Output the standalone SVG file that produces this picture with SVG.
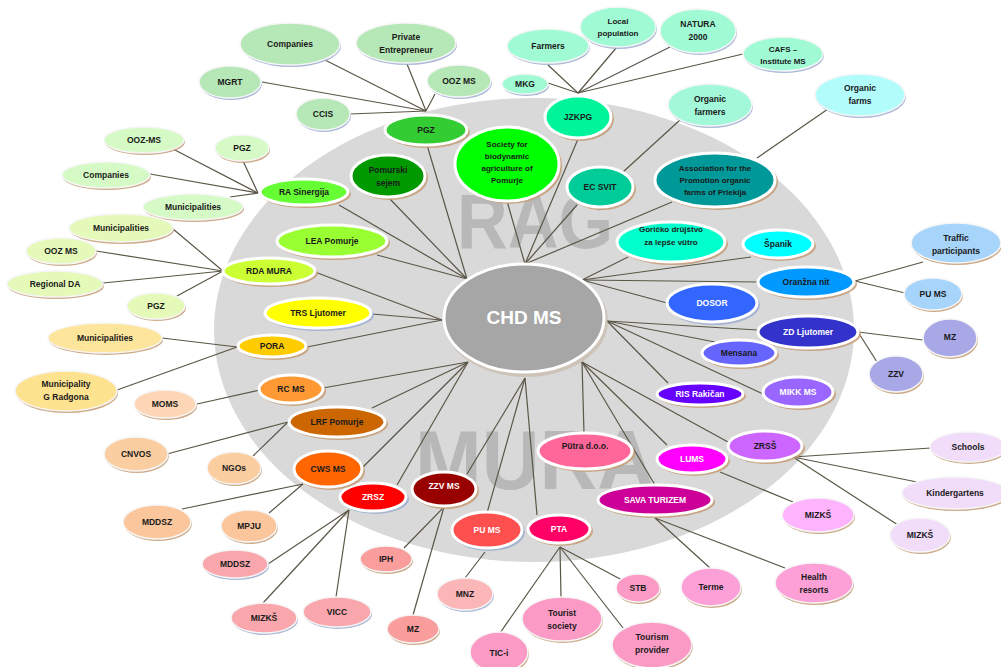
<svg xmlns="http://www.w3.org/2000/svg" width="1001" height="667" viewBox="0 0 1001 667">
<style>
.sh{fill:#c49c76;opacity:.85}
.shb{fill:#9eaed0;opacity:.85}
.in{stroke:#fff;stroke-width:3}
.out{stroke:#f6f6f6;stroke-width:1.5}
.t{font-family:"Liberation Sans",Arial,sans-serif;font-size:8.5px;font-weight:bold;text-anchor:middle;fill:#1a1a1a}
.s{font-size:8px}
.w{fill:#fff}
.big{font-size:19px}
.wm{font-family:"Liberation Sans",Arial,sans-serif;font-weight:bold;fill:#b8b8b8}
#connectors line{stroke:#5a5646;stroke-width:1.2}
</style>
<rect width="1001" height="667" fill="#fff"/>
<ellipse cx="534" cy="330" rx="320" ry="232" fill="#d9d9d9"/>
<text class="wm" x="457" y="248" font-size="78" textLength="156" lengthAdjust="spacingAndGlyphs">RAG</text>
<text class="wm" x="415" y="489" font-size="84" textLength="240" lengthAdjust="spacingAndGlyphs">MURA</text>

<g id="connectors">
<line x1="467" y1="279" x2="427" y2="145"/>
<line x1="467" y1="279" x2="389" y2="198"/>
<line x1="467" y1="279" x2="339" y2="205"/>
<line x1="467" y1="279" x2="377" y2="255"/>
<line x1="525" y1="264" x2="507" y2="201"/>
<line x1="525" y1="264" x2="578" y2="139"/>
<line x1="525" y1="264" x2="577" y2="205"/>
<line x1="525" y1="264" x2="672" y2="202"/>
<line x1="582" y1="280" x2="628" y2="257"/>
<line x1="582" y1="280" x2="751" y2="257"/>
<line x1="582" y1="280" x2="759" y2="282"/>
<line x1="582" y1="280" x2="667" y2="303"/>
<line x1="607" y1="321" x2="758" y2="330"/>
<line x1="607" y1="321" x2="715" y2="342"/>
<line x1="607" y1="321" x2="763" y2="394"/>
<line x1="607" y1="321" x2="668" y2="383"/>
<line x1="582" y1="362" x2="584" y2="433"/>
<line x1="582" y1="362" x2="667" y2="445"/>
<line x1="582" y1="362" x2="728" y2="442"/>
<line x1="582" y1="362" x2="655" y2="485"/>
<line x1="525" y1="378" x2="467" y2="474"/>
<line x1="525" y1="378" x2="487" y2="513"/>
<line x1="525" y1="378" x2="537" y2="515"/>
<line x1="468" y1="362" x2="323" y2="388"/>
<line x1="468" y1="362" x2="372" y2="408"/>
<line x1="468" y1="362" x2="362" y2="468"/>
<line x1="468" y1="362" x2="397" y2="485"/>
<line x1="442" y1="320" x2="315" y2="272"/>
<line x1="442" y1="320" x2="372" y2="314"/>
<line x1="442" y1="320" x2="307" y2="347"/>
<line x1="426" y1="111" x2="325" y2="60"/>
<line x1="426" y1="111" x2="407" y2="64"/>
<line x1="426" y1="111" x2="435" y2="94"/>
<line x1="426" y1="111" x2="262" y2="82"/>
<line x1="426" y1="111" x2="350" y2="114"/>
<line x1="258" y1="193" x2="173" y2="149"/>
<line x1="258" y1="193" x2="243" y2="161"/>
<line x1="258" y1="193" x2="150" y2="174"/>
<line x1="258" y1="193" x2="230" y2="197"/>
<line x1="223" y1="271" x2="173" y2="229"/>
<line x1="223" y1="271" x2="96" y2="251"/>
<line x1="223" y1="271" x2="103" y2="283"/>
<line x1="223" y1="271" x2="177" y2="296"/>
<line x1="237" y1="347" x2="162" y2="338"/>
<line x1="237" y1="347" x2="117" y2="390"/>
<line x1="260" y1="390" x2="197" y2="404"/>
<line x1="288" y1="422" x2="167" y2="454"/>
<line x1="288" y1="422" x2="253" y2="456"/>
<line x1="303" y1="484" x2="182" y2="509"/>
<line x1="303" y1="484" x2="269" y2="513"/>
<line x1="349" y1="510" x2="268" y2="564"/>
<line x1="349" y1="510" x2="263" y2="603"/>
<line x1="349" y1="510" x2="336" y2="597"/>
<line x1="444" y1="507" x2="404" y2="548"/>
<line x1="444" y1="507" x2="413" y2="615"/>
<line x1="485" y1="552" x2="465" y2="578"/>
<line x1="560" y1="547" x2="500" y2="633"/>
<line x1="560" y1="547" x2="561" y2="597"/>
<line x1="560" y1="547" x2="623" y2="628"/>
<line x1="560" y1="547" x2="622" y2="580"/>
<line x1="655" y1="518" x2="710" y2="568"/>
<line x1="655" y1="518" x2="785" y2="568"/>
<line x1="720" y1="472" x2="793" y2="502"/>
<line x1="793" y1="457" x2="931" y2="448"/>
<line x1="793" y1="457" x2="917" y2="482"/>
<line x1="793" y1="457" x2="898" y2="525"/>
<line x1="858" y1="332" x2="923" y2="340"/>
<line x1="858" y1="332" x2="877" y2="362"/>
<line x1="855" y1="281" x2="923" y2="262"/>
<line x1="855" y1="281" x2="905" y2="293"/>
<line x1="578" y1="93" x2="548" y2="83"/>
<line x1="578" y1="93" x2="548" y2="65"/>
<line x1="578" y1="93" x2="617" y2="47"/>
<line x1="578" y1="93" x2="670" y2="47"/>
<line x1="578" y1="93" x2="743" y2="54"/>
<line x1="623" y1="172" x2="680" y2="120"/>
<line x1="757" y1="158" x2="828" y2="109"/>
</g>

<g id="n-chd"><ellipse cx="526" cy="321" rx="82" ry="56" fill="#c4b4a4" opacity=".6"/><ellipse class="in" cx="524" cy="318" rx="80" ry="54" fill="#a6a6a6"/><text class="t w big" x="524" y="324">CHD MS</text></g>

<g id="n-pgz"><ellipse class="sh" cx="428" cy="132" rx="42" ry="16"/><ellipse class="in" cx="426" cy="130" rx="41" ry="15" fill="#33cc33"/><text class="t" x="426" y="133">PGZ</text></g>
<g id="n-pomurski"><ellipse class="sh" cx="390" cy="178" rx="38" ry="22"/><ellipse class="in" cx="388" cy="176" rx="37" ry="21" fill="#009900"/><text class="t" x="388" y="173">Pomurski<tspan x="388" dy="13">sejem</tspan></text></g>
<g id="n-society"><ellipse class="sh" cx="509" cy="166" rx="53" ry="38"/><ellipse class="in" cx="507" cy="164" rx="52" ry="37" fill="#00ff00"/><text class="t s" x="507" y="147">Society for<tspan x="507" dy="12">biodynamic</tspan><tspan x="507" dy="12">agriculture of</tspan><tspan x="507" dy="12">Pomurje</tspan></text></g>
<g id="n-jzkpg"><ellipse class="sh" cx="580" cy="119" rx="34" ry="22"/><ellipse class="in" cx="578" cy="117" rx="33" ry="21" fill="#00f59a"/><text class="t" x="578" y="120">JZKPG</text></g>
<g id="n-ecsvit"><ellipse class="sh" cx="602" cy="189" rx="34" ry="21"/><ellipse class="in" cx="600" cy="187" rx="33" ry="20" fill="#00cc99"/><text class="t" x="600" y="190">EC SVIT</text></g>
<g id="n-assoc"><ellipse class="sh" cx="717" cy="182" rx="61" ry="28"/><ellipse class="in" cx="715" cy="180" rx="60" ry="27" fill="#009999"/><text class="t s" x="715" y="171">Association for the<tspan x="715" dy="12">Promotion organic</tspan><tspan x="715" dy="12">farms of Prlekija</tspan></text></g>
<g id="n-goricko"><ellipse class="sh" cx="673" cy="244" rx="55" ry="21"/><ellipse class="in" cx="671" cy="242" rx="54" ry="20" fill="#00ffcc"/><text class="t s" x="671" y="232" fill="#102040">Goričko drüjštvo<tspan x="671" dy="13">za lepše vütro</tspan></text></g>
<g id="n-spanik"><ellipse class="sh" cx="780" cy="246" rx="36" ry="15"/><ellipse class="in" cx="778" cy="244" rx="35" ry="14" fill="#00ffff"/><text class="t" x="778" y="247">Španik</text></g>
<g id="n-oranzna"><ellipse class="sh" cx="808" cy="284" rx="49" ry="16"/><ellipse class="in" cx="806" cy="282" rx="48" ry="15" fill="#0099ff"/><text class="t" x="806" y="285">Oranžna nit</text></g>
<g id="n-dosor"><ellipse class="shb" cx="714" cy="305" rx="46" ry="20"/><ellipse class="in" cx="712" cy="303" rx="45" ry="19" fill="#3366ff"/><text class="t w" x="712" y="306">DOSOR</text></g>
<g id="n-zdljutomer"><ellipse class="sh" cx="810" cy="334" rx="51" ry="17"/><ellipse class="in" cx="808" cy="332" rx="50" ry="16" fill="#3333cc"/><text class="t w" x="808" y="335">ZD Ljutomer</text></g>
<g id="n-mensana"><ellipse class="sh" cx="741" cy="355" rx="38" ry="14"/><ellipse class="in" cx="739" cy="353" rx="37" ry="13" fill="#6666ff"/><text class="t" x="739" y="356">Mensana</text></g>
<g id="n-ris"><ellipse class="sh" cx="702" cy="396" rx="44" ry="12"/><ellipse class="in" cx="700" cy="394" rx="43" ry="11" fill="#6600ff"/><text class="t w" x="700" y="397">RIS Rakičan</text></g>
<g id="n-mikk"><ellipse class="sh" cx="800" cy="394" rx="36" ry="16"/><ellipse class="in" cx="798" cy="392" rx="35" ry="15" fill="#9966ff"/><text class="t w" x="798" y="395">MIKK MS</text></g>
<g id="n-zrss"><ellipse class="sh" cx="767" cy="448" rx="38" ry="16"/><ellipse class="in" cx="765" cy="446" rx="37" ry="15" fill="#cc66ff"/><text class="t" x="765" y="449">ZRSŠ</text></g>
<g id="n-lums"><ellipse class="sh" cx="694" cy="461" rx="36" ry="15"/><ellipse class="in" cx="692" cy="459" rx="35" ry="14" fill="#ff00ff"/><text class="t w" x="692" y="462">LUMS</text></g>
<g id="n-sava"><ellipse class="sh" cx="657" cy="502" rx="58" ry="16"/><ellipse class="in" cx="655" cy="500" rx="57" ry="15" fill="#cc0099"/><text class="t w" x="655" y="503">SAVA TURIZEM</text></g>
<g id="n-putra"><ellipse class="sh" cx="587" cy="453" rx="48" ry="19"/><ellipse class="in" cx="585" cy="451" rx="47" ry="18" fill="#ff6699"/><text class="t" x="585" y="449">Pütra d.o.o.</text></g>
<g id="n-pta"><ellipse class="sh" cx="561" cy="531" rx="32" ry="15"/><ellipse class="in" cx="559" cy="529" rx="31" ry="14" fill="#ff0066"/><text class="t w" x="559" y="532">PTA</text></g>
<g id="n-pums"><ellipse class="shb" cx="489" cy="532" rx="36" ry="19"/><ellipse class="in" cx="487" cy="530" rx="35" ry="18" fill="#ff5050"/><text class="t w" x="487" y="533">PU MS</text></g>
<g id="n-zzvms"><ellipse class="sh" cx="446" cy="491" rx="33" ry="18"/><ellipse class="in" cx="444" cy="489" rx="32" ry="17" fill="#990000"/><text class="t w" x="444" y="489">ZZV MS</text></g>
<g id="n-zrsz"><ellipse class="shb" cx="375" cy="499" rx="34" ry="15"/><ellipse class="in" cx="373" cy="497" rx="33" ry="14" fill="#ff0000"/><text class="t w" x="373" y="500">ZRSZ</text></g>
<g id="n-cws"><ellipse class="sh" cx="330" cy="471" rx="35" ry="19"/><ellipse class="in" cx="328" cy="469" rx="34" ry="18" fill="#ff6600"/><text class="t" x="328" y="472">CWS MS</text></g>
<g id="n-lrf"><ellipse class="sh" cx="339" cy="424" rx="49" ry="16"/><ellipse class="in" cx="337" cy="422" rx="48" ry="15" fill="#cc6600"/><text class="t" x="337" y="425">LRF Pomurje</text></g>
<g id="n-rcms"><ellipse class="sh" cx="293" cy="391" rx="33" ry="15"/><ellipse class="in" cx="291" cy="389" rx="32" ry="14" fill="#ff9933"/><text class="t" x="291" y="392">RC MS</text></g>
<g id="n-pora"><ellipse class="sh" cx="274" cy="348" rx="35" ry="12"/><ellipse class="in" cx="272" cy="346" rx="34" ry="11" fill="#ffcc00"/><text class="t" x="272" y="349">PORA</text></g>
<g id="n-trs"><ellipse class="shb" cx="320" cy="315" rx="54" ry="16"/><ellipse class="in" cx="318" cy="313" rx="53" ry="15" fill="#ffff00"/><text class="t" x="318" y="316">TRS Ljutomer</text></g>
<g id="n-rda"><ellipse class="sh" cx="271" cy="273" rx="47" ry="14"/><ellipse class="in" cx="269" cy="271" rx="46" ry="13" fill="#ccff33"/><text class="t" x="269" y="274">RDA MURA</text></g>
<g id="n-lea"><ellipse class="sh" cx="334" cy="243" rx="56" ry="17"/><ellipse class="in" cx="332" cy="241" rx="55" ry="16" fill="#99ff33"/><text class="t" x="332" y="244">LEA Pomurje</text></g>
<g id="n-rasin"><ellipse class="sh" cx="306" cy="194" rx="45" ry="14"/><ellipse class="in" cx="304" cy="192" rx="44" ry="13" fill="#66ff33"/><text class="t" x="304" y="195">RA Sinergija</text></g>

<g id="o-companies1"><ellipse class="shb" cx="291" cy="46" rx="50" ry="21"/><ellipse class="out" cx="290" cy="44" rx="50" ry="21" fill="#b6e7b6"/><text class="t" x="290" y="47">Companies</text></g>
<g id="o-private"><ellipse class="shb" cx="407" cy="45" rx="50" ry="20"/><ellipse class="out" cx="406" cy="43" rx="50" ry="20" fill="#b6e7b6"/><text class="t" x="406" y="40">Private<tspan x="406" dy="12.5">Entrepreneur</tspan></text></g>
<g id="o-oozms1"><ellipse class="shb" cx="460" cy="83" rx="32" ry="16"/><ellipse class="out" cx="459" cy="81" rx="32" ry="16" fill="#b6e7b6"/><text class="t" x="459" y="84">OOZ MS</text></g>
<g id="o-mgrt"><ellipse class="shb" cx="231" cy="84" rx="31" ry="16"/><ellipse class="out" cx="230" cy="82" rx="31" ry="16" fill="#b6e7b6"/><text class="t" x="230" y="85">MGRT</text></g>
<g id="o-ccis"><ellipse class="shb" cx="324" cy="116" rx="27" ry="16"/><ellipse class="out" cx="323" cy="114" rx="27" ry="16" fill="#b6e7b6"/><text class="t" x="323" y="117">CCIS</text></g>
<g id="o-oozms2"><ellipse class="sh" cx="145" cy="142" rx="40" ry="13"/><ellipse class="out" cx="144" cy="140" rx="40" ry="13" fill="#d5fac6"/><text class="t" x="144" y="143">OOZ-MS</text></g>
<g id="o-pgz2"><ellipse class="sh" cx="243" cy="150" rx="27" ry="13"/><ellipse class="out" cx="242" cy="148" rx="27" ry="13" fill="#d5fac6"/><text class="t" x="242" y="151">PGZ</text></g>
<g id="o-companies2"><ellipse class="sh" cx="107" cy="177" rx="44" ry="13"/><ellipse class="out" cx="106" cy="175" rx="44" ry="13" fill="#d5fac6"/><text class="t" x="106" y="178">Companies</text></g>
<g id="o-munic1"><ellipse class="sh" cx="194" cy="209" rx="50" ry="13"/><ellipse class="out" cx="193" cy="207" rx="50" ry="13" fill="#d5fac6"/><text class="t" x="193" y="210">Municipalities</text></g>
<g id="o-munic2"><ellipse class="sh" cx="122" cy="230" rx="52" ry="14"/><ellipse class="out" cx="121" cy="228" rx="52" ry="14" fill="#e5fab8"/><text class="t" x="121" y="231">Municipalities</text></g>
<g id="o-oozms3"><ellipse class="sh" cx="62" cy="253" rx="35" ry="13"/><ellipse class="out" cx="61" cy="251" rx="35" ry="13" fill="#e5fab8"/><text class="t" x="61" y="254">OOZ MS</text></g>
<g id="o-regda"><ellipse class="sh" cx="56" cy="286" rx="48" ry="13"/><ellipse class="out" cx="55" cy="284" rx="48" ry="13" fill="#e5fab8"/><text class="t" x="55" y="287">Regional DA</text></g>
<g id="o-pgz3"><ellipse class="sh" cx="157" cy="308" rx="29" ry="13"/><ellipse class="out" cx="156" cy="306" rx="29" ry="13" fill="#e5fab8"/><text class="t" x="156" y="309">PGZ</text></g>
<g id="o-munic3"><ellipse class="sh" cx="106" cy="340" rx="57" ry="15"/><ellipse class="out" cx="105" cy="338" rx="57" ry="15" fill="#fde59c"/><text class="t" x="105" y="341">Municipalities</text></g>
<g id="o-gradgona"><ellipse class="sh" cx="67" cy="393" rx="51" ry="20"/><ellipse class="out" cx="66" cy="391" rx="51" ry="20" fill="#fde290"/><text class="t" x="66" y="387">Municipality<tspan x="66" dy="13">G Radgona</tspan></text></g>
<g id="o-moms"><ellipse class="sh" cx="166" cy="406" rx="31" ry="14"/><ellipse class="out" cx="165" cy="404" rx="31" ry="14" fill="#fcd6b5"/><text class="t" x="165" y="407">MOMS</text></g>
<g id="o-cnvos"><ellipse class="sh" cx="137" cy="456" rx="32" ry="17"/><ellipse class="out" cx="136" cy="454" rx="32" ry="17" fill="#fbcea2"/><text class="t" x="136" y="457">CNVOS</text></g>
<g id="o-ngos"><ellipse class="sh" cx="235" cy="470" rx="27" ry="16"/><ellipse class="out" cx="234" cy="468" rx="27" ry="16" fill="#fbcea2"/><text class="t" x="234" y="471">NGOs</text></g>
<g id="o-mddsz1"><ellipse class="sh" cx="158" cy="524" rx="34" ry="17"/><ellipse class="out" cx="157" cy="522" rx="34" ry="17" fill="#fbc69c"/><text class="t" x="157" y="525">MDDSZ</text></g>
<g id="o-mpju"><ellipse class="sh" cx="250" cy="528" rx="28" ry="16"/><ellipse class="out" cx="249" cy="526" rx="28" ry="16" fill="#fbc69c"/><text class="t" x="249" y="529">MPJU</text></g>
<g id="o-mddsz2"><ellipse class="shb" cx="236" cy="566" rx="33" ry="14"/><ellipse class="out" cx="235" cy="564" rx="33" ry="14" fill="#f9a7ac"/><text class="t" x="235" y="567">MDDSZ</text></g>
<g id="o-mizks1"><ellipse class="shb" cx="265" cy="620" rx="33" ry="15"/><ellipse class="out" cx="264" cy="618" rx="33" ry="15" fill="#f9a7ac"/><text class="t" x="264" y="621">MIZKŠ</text></g>
<g id="o-vicc"><ellipse class="shb" cx="338" cy="614" rx="34" ry="15"/><ellipse class="out" cx="337" cy="612" rx="34" ry="15" fill="#f9a7ac"/><text class="t" x="337" y="615">VICC</text></g>
<g id="o-iph"><ellipse class="sh" cx="387" cy="561" rx="26" ry="13"/><ellipse class="out" cx="386" cy="559" rx="26" ry="13" fill="#f99d9d"/><text class="t" x="386" y="562">IPH</text></g>
<g id="o-mz1"><ellipse class="sh" cx="414" cy="631" rx="26" ry="14"/><ellipse class="out" cx="413" cy="629" rx="26" ry="14" fill="#f99d9d"/><text class="t" x="413" y="632">MZ</text></g>
<g id="o-mnz"><ellipse class="shb" cx="466" cy="596" rx="28" ry="16"/><ellipse class="out" cx="465" cy="594" rx="28" ry="16" fill="#fbb6b8"/><text class="t" x="465" y="597">MNZ</text></g>
<g id="o-stb"><ellipse class="sh" cx="639" cy="590" rx="22" ry="14"/><ellipse class="out" cx="638" cy="588" rx="22" ry="14" fill="#fc9ac6"/><text class="t" x="638" y="591">STB</text></g>
<g id="o-tourist"><ellipse class="sh" cx="563" cy="621" rx="40" ry="22"/><ellipse class="out" cx="562" cy="619" rx="40" ry="22" fill="#fc9ac6"/><text class="t" x="562" y="616">Tourist<tspan x="562" dy="13">society</tspan></text></g>
<g id="o-tourism"><ellipse class="sh" cx="653" cy="647" rx="40" ry="23"/><ellipse class="out" cx="652" cy="645" rx="40" ry="23" fill="#fc9ac6"/><text class="t" x="652" y="640">Tourism<tspan x="652" dy="13">provider</tspan></text></g>
<g id="o-tici"><ellipse class="sh" cx="500" cy="654" rx="29" ry="20"/><ellipse class="out" cx="499" cy="652" rx="29" ry="20" fill="#fc9ac6"/><text class="t" x="499" y="656">TIC-i</text></g>
<g id="o-terme"><ellipse class="sh" cx="712" cy="589" rx="30" ry="19"/><ellipse class="out" cx="711" cy="587" rx="30" ry="19" fill="#fda0d8"/><text class="t" x="711" y="590">Terme</text></g>
<g id="o-health"><ellipse class="sh" cx="815" cy="585" rx="39" ry="20"/><ellipse class="out" cx="814" cy="583" rx="39" ry="20" fill="#fda0d8"/><text class="t" x="814" y="580">Health<tspan x="814" dy="12.5">resorts</tspan></text></g>
<g id="o-mizks2"><ellipse class="sh" cx="819" cy="517" rx="36" ry="17"/><ellipse class="out" cx="818" cy="515" rx="36" ry="17" fill="#feb4fd"/><text class="t" x="818" y="518">MIZKŠ</text></g>
<g id="o-schools"><ellipse class="sh" cx="969" cy="449" rx="38" ry="15"/><ellipse class="out" cx="968" cy="447" rx="38" ry="15" fill="#f1dcfa"/><text class="t" x="968" y="450">Schools</text></g>
<g id="o-kinder"><ellipse class="sh" cx="956" cy="495" rx="53" ry="16"/><ellipse class="out" cx="955" cy="493" rx="53" ry="16" fill="#f1dcfa"/><text class="t" x="955" y="496">Kindergartens</text></g>
<g id="o-mizks3"><ellipse class="sh" cx="921" cy="537" rx="30" ry="17"/><ellipse class="out" cx="920" cy="535" rx="30" ry="17" fill="#f1dcfa"/><text class="t" x="920" y="538">MIZKŠ</text></g>
<g id="o-mz2"><ellipse class="sh" cx="951" cy="340" rx="27" ry="19"/><ellipse class="out" cx="950" cy="338" rx="27" ry="19" fill="#a8a8e6"/><text class="t" x="950" y="340">MZ</text></g>
<g id="o-zzv"><ellipse class="sh" cx="897" cy="376" rx="27" ry="18"/><ellipse class="out" cx="896" cy="374" rx="27" ry="18" fill="#a8a8e6"/><text class="t" x="896" y="377">ZZV</text></g>
<g id="o-traffic"><ellipse class="sh" cx="957" cy="245" rx="45" ry="20"/><ellipse class="out" cx="956" cy="243" rx="45" ry="20" fill="#a6d4fb"/><text class="t" x="956" y="241">Traffic<tspan x="956" dy="13">participants</tspan></text></g>
<g id="o-pums2"><ellipse class="sh" cx="934" cy="296" rx="29" ry="16"/><ellipse class="out" cx="933" cy="294" rx="29" ry="16" fill="#a6d4fb"/><text class="t" x="933" y="297">PU MS</text></g>
<g id="o-orgfarms"><ellipse class="shb" cx="861" cy="97" rx="45" ry="21"/><ellipse class="out" cx="860" cy="95" rx="45" ry="21" fill="#b3fcfc"/><text class="t" x="860" y="91">Organic<tspan x="860" dy="12.5">farms</tspan></text></g>
<g id="o-orgfarmers"><ellipse class="shb" cx="711" cy="107" rx="42" ry="21"/><ellipse class="out" cx="710" cy="105" rx="42" ry="21" fill="#a3f8da"/><text class="t" x="710" y="102">Organic<tspan x="710" dy="12.5">farmers</tspan></text></g>
<g id="o-mkg"><ellipse class="shb" cx="526" cy="86" rx="23" ry="10"/><ellipse class="out" cx="525" cy="84" rx="23" ry="10" fill="#a0fbd5"/><text class="t" x="525" y="87">MKG</text></g>
<g id="o-farmers"><ellipse class="shb" cx="549" cy="48" rx="41" ry="17"/><ellipse class="out" cx="548" cy="46" rx="41" ry="17" fill="#a0fbd5"/><text class="t" x="548" y="49">Farmers</text></g>
<g id="o-local"><ellipse class="shb" cx="619" cy="29" rx="38" ry="20"/><ellipse class="out" cx="618" cy="27" rx="38" ry="20" fill="#a0fbd5"/><text class="t s" x="618" y="24">Local<tspan x="618" dy="11.5">population</tspan></text></g>
<g id="o-natura"><ellipse class="shb" cx="699" cy="33" rx="38" ry="22"/><ellipse class="out" cx="698" cy="31" rx="38" ry="22" fill="#a0fbd5"/><text class="t" x="698" y="27">NATURA<tspan x="698" dy="12.5">2000</tspan></text></g>
<g id="o-cafs"><ellipse class="shb" cx="784" cy="56" rx="40" ry="17"/><ellipse class="out" cx="783" cy="54" rx="40" ry="17" fill="#a0fbd5"/><text class="t s" x="783" y="52">CAFS –<tspan x="783" dy="11.5">Institute MS</tspan></text></g>
</svg>
